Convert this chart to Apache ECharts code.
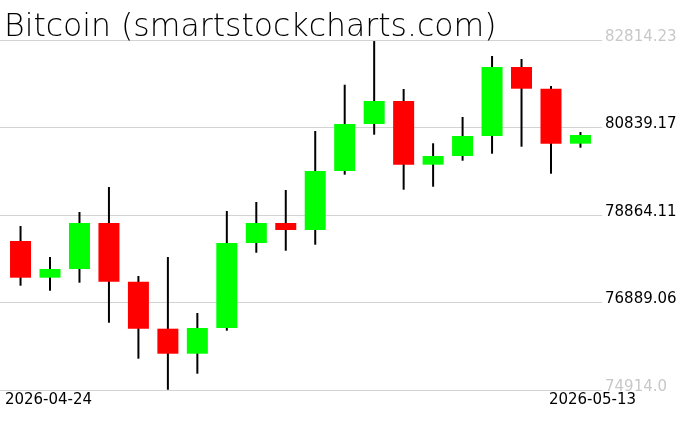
<!DOCTYPE html>
<html>
<head>
<meta charset="utf-8">
<script src="https://cdn.jsdelivr.net/npm/echarts@6/dist/echarts.min.js"></script>
<style>html,body{margin:0;padding:0;background:#fff;}#chart{width:676px;height:431px;}</style>
</head>
<body>
<div id="chart"></div>
<script>
const titleText = 'Bitcoin (smartstockcharts.com)';
const dates = ['2026-04-24','2026-04-25','2026-04-26','2026-04-27','2026-04-28','2026-04-29','2026-04-30','2026-05-01','2026-05-02','2026-05-03',
               '2026-05-04','2026-05-05','2026-05-06','2026-05-07','2026-05-08','2026-05-09','2026-05-10','2026-05-11','2026-05-12','2026-05-13'];
const openVals  = [78277, 77449, 77645, 78684, 77359, 76298, 75733, 76314, 78232, 78684, 78526, 79857, 80918, 81437, 80000, 80196, 80647, 82205, 81715, 80474];
const closeVals = [77449, 77645, 78684, 77359, 76298, 75733, 76314, 78232, 78684, 78526, 79857, 80918, 81437, 80000, 80196, 80647, 82205, 81715, 80474, 80670];
const lowVals   = [77268, 77155, 77336, 76433, 75621, 74920, 75282, 76253, 78013, 78058, 78194, 79774, 80677, 79435, 79503, 80090, 80248, 80406, 79796, 80383];
const highVals  = [78616, 77916, 78932, 79496, 77487, 77916, 76652, 78954, 79158, 79428, 80760, 81805, 82790, 81708, 80483, 81076, 82453, 82385, 81776, 80738];
const yMin = 74914.0, yMax = 82814.23;
const yTickLabels = ['74914.0', '76889.06', '78864.11', '80839.17', '82814.23'];

const candleData = dates.map((d, i) => [i, openVals[i], closeVals[i], lowVals[i], highVals[i]]);

const chart = echarts.init(document.getElementById('chart'), null, {renderer: 'canvas'});
const FONT = 'DejaVu Sans';
chart.setOption({
  animation: false,
  backgroundColor: '#ffffff',
  title: {
    text: titleText,
    left: 4, top: 12, padding: 0,
    textStyle: {fontFamily: FONT, fontSize: 31.5, fontWeight: 200, color: '#000'}
  },
  grid: [
    {left: 5.8, right: 80.8, top: 40, bottom: 41, outerBoundsMode: 'none'},
    {left: 0, right: 74, top: 40, bottom: 41, outerBoundsMode: 'none'}
  ],
  xAxis: [
    {
      gridIndex: 0, type: 'category', data: dates, boundaryGap: true,
      axisLine: {show: false}, axisTick: {show: false}, splitLine: {show: false},
      axisLabel: {
        interval: (idx) => idx === 0 || idx === dates.length - 1,
        margin: 3,
        formatter: (v, idx) => idx === 0 ? '{a|' + v + '}' : '{b|' + v + '}',
        rich: {
          a: {fontFamily: FONT, fontSize: 15, color: '#000', padding: [0, 0, 0, 56]},
          b: {fontFamily: FONT, fontSize: 15, color: '#000', padding: [0, 0, 6, 24]}
        }
      }
    },
    {gridIndex: 1, type: 'value', show: false, min: 0, max: 1}
  ],
  yAxis: [
    {gridIndex: 0, type: 'value', min: yMin, max: yMax, show: false, splitLine: {show: false}},
    {
      gridIndex: 1, type: 'value', position: 'right', min: 0, max: yTickLabels.length - 1, interval: 1,
      axisLine: {show: false}, axisTick: {show: false},
      splitLine: {show: true, lineStyle: {color: '#d3d3d3', width: 1}},
      axisLabel: {
        margin: 3, fontFamily: FONT, fontSize: 15, verticalAlign: 'bottom', lineHeight: 6,
        formatter: (v) => yTickLabels[Math.round(v)],
        color: (v) => (Math.round(+v) === 0 || Math.round(+v) === yTickLabels.length - 1) ? '#c8c8c8' : '#000'
      }
    }
  ],
  series: [{
    type: 'custom',
    xAxisIndex: 0, yAxisIndex: 0,
    data: candleData,
    encode: {x: 0, y: [1, 2, 3, 4]},
    clip: false,
    renderItem: (params, api) => {
      const i = api.value(0), o = api.value(1), c = api.value(2), l = api.value(3), h = api.value(4);
      const pO = api.coord([i, o]), pC = api.coord([i, c]), pL = api.coord([i, l]), pH = api.coord([i, h]);
      const w = api.size([1, 0])[0] * 0.713;
      return {
        type: 'group',
        children: [
          {type: 'line', shape: {x1: pH[0], y1: pH[1], x2: pL[0], y2: pL[1]}, style: {stroke: '#000', lineWidth: 2}},
          {type: 'rect', shape: {x: pO[0] - w / 2, y: Math.min(pO[1], pC[1]), width: w, height: Math.max(1, Math.abs(pO[1] - pC[1]))},
           style: {fill: c >= o ? '#00ff00' : '#ff0000'}}
        ]
      };
    }
  }]
});
</script>
</body>
</html>
